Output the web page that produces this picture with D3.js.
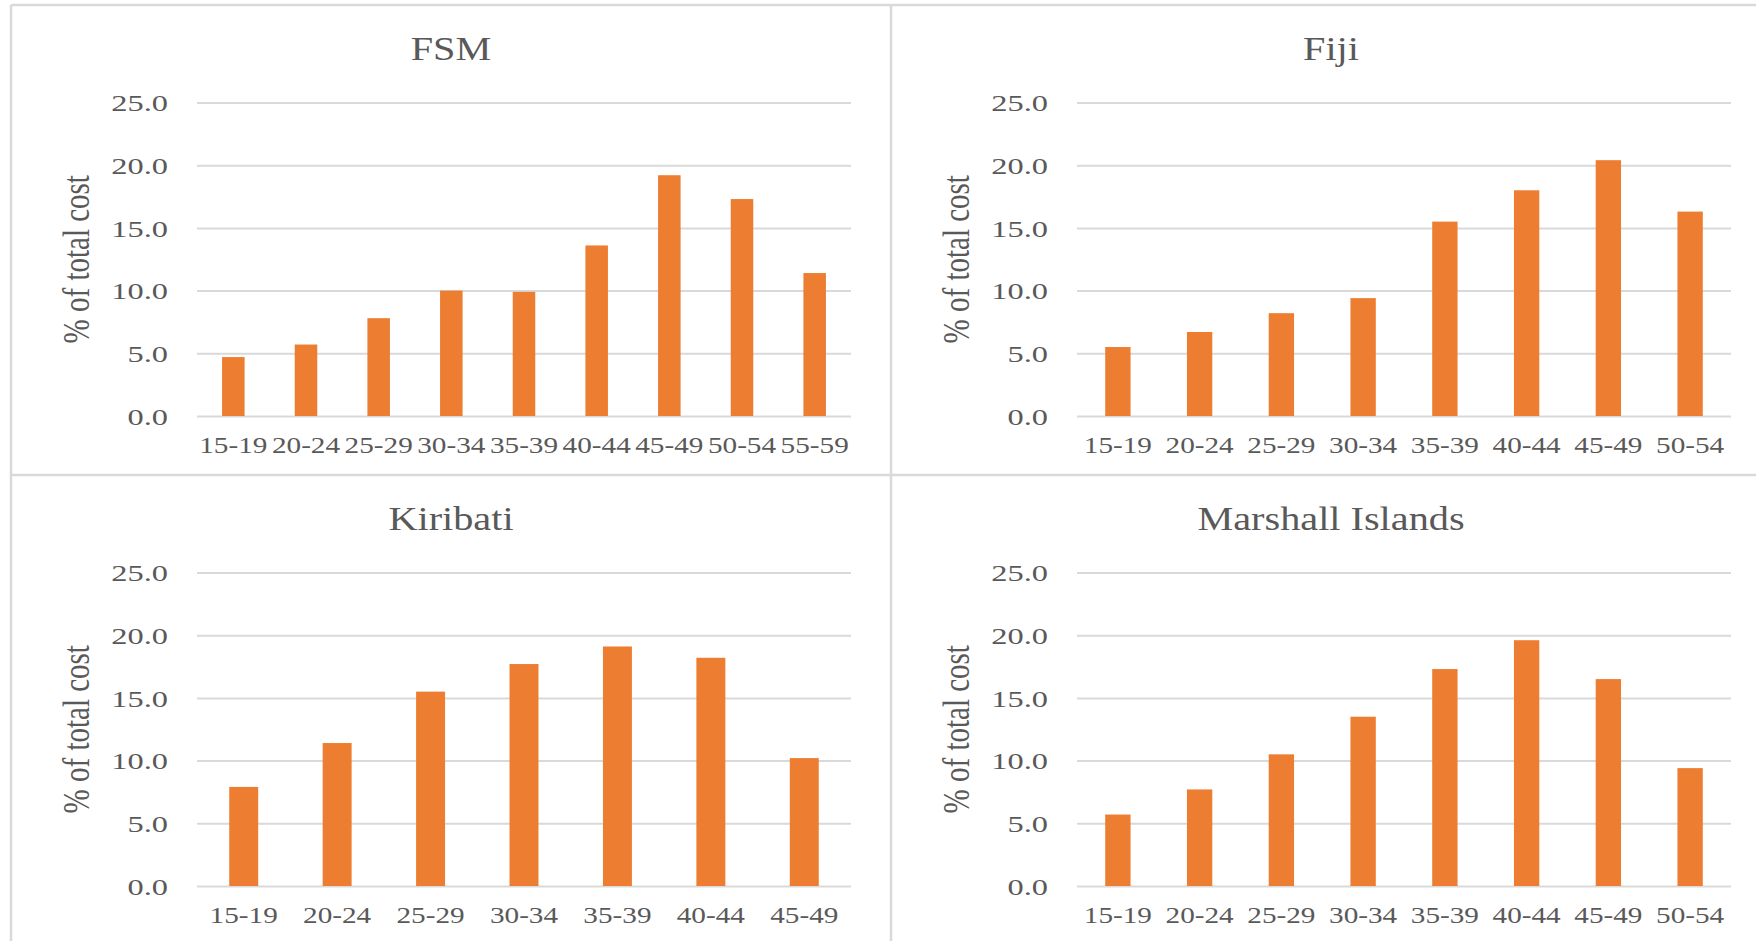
<!DOCTYPE html>
<html>
<head>
<meta charset="utf-8">
<script src="https://cdn.jsdelivr.net/npm/d3@7"></script>
<style>
  html, body { margin: 0; padding: 0; background: #ffffff; }
  svg { display: block; }
  text { font-family: "Liberation Serif", "Times New Roman", serif; fill: #595959; }
</style>
</head>
<body>
<svg id="chart" width="1756" height="941"></svg>
<script>
// ---- Data ----
const ageGroupsFSM = ["15-19","20-24","25-29","30-34","35-39","40-44","45-49","50-54","55-59"];
const ageGroupsFiji = ["15-19","20-24","25-29","30-34","35-39","40-44","45-49","50-54"];
const ageGroupsKiribati = ["15-19","20-24","25-29","30-34","35-39","40-44","45-49"];
const ageGroupsMarshall = ["15-19","20-24","25-29","30-34","35-39","40-44","45-49","50-54"];

const fsmValues = [4.7, 5.7, 7.8, 10.0, 9.9, 13.6, 19.2, 17.3, 11.4];
const fijiValues = [5.5, 6.7, 8.2, 9.4, 15.5, 18.0, 20.4, 16.3];
const kiribatiValues = [7.9, 11.4, 15.5, 17.7, 19.1, 18.2, 10.2];
const marshallValues = [5.7, 7.7, 10.5, 13.5, 17.3, 19.6, 16.5, 9.4];

const panelTitles = ["FSM", "Fiji", "Kiribati", "Marshall Islands"];
const yTicks = [0, 5, 10, 15, 20, 25];
const yAxisTitle = "% of total cost";

// ---- Layout ----
const svg = d3.select("#chart");
const W = 1756, H = 941;
const gridColor = "#D9D9D9";
const barColor = "#ED7D31";
const textColor = "#595959";

const panels = [
  { title: panelTitles[0], cats: ageGroupsFSM, vals: fsmValues, left: 11, top: 5 },
  { title: panelTitles[1], cats: ageGroupsFiji, vals: fijiValues, left: 891, top: 5 },
  { title: panelTitles[2], cats: ageGroupsKiribati, vals: kiribatiValues, left: 11, top: 475 },
  { title: panelTitles[3], cats: ageGroupsMarshall, vals: marshallValues, left: 891, top: 475 }
];

// panel borders
const borders = svg.append("g").attr("stroke", gridColor).attr("stroke-width", 2.5).attr("fill", "none");
borders.append("line").attr("x1", 11).attr("x2", W).attr("y1", 5).attr("y2", 5);
borders.append("line").attr("x1", 11).attr("x2", W).attr("y1", 475).attr("y2", 475);
borders.append("line").attr("x1", 11).attr("x2", 11).attr("y1", 5).attr("y2", H);
borders.append("line").attr("x1", 891).attr("x2", 891).attr("y1", 5).attr("y2", H);

const yTickSX = 1.35;   // horizontal stretch of y tick text
const xTickSX = 1.3;    // horizontal stretch of x tick text
const titleSX = 1.22;

panels.forEach(p => {
  const g = svg.append("g").attr("transform", `translate(${p.left},${p.top})`);
  const x0 = 186, x1 = 840;
  const yTop = 97.5, yBot = 411;

  const x = d3.scaleBand().domain(p.cats).range([x0, x1]).paddingInner(0.69).paddingOuter(0.345);
  const y = d3.scaleLinear().domain([0, 25]).range([yBot, yTop]);

  // gridlines + y tick labels
  const yAxis = d3.axisLeft(y).tickValues(yTicks).tickFormat(d3.format(".1f")).tickSize(-(x1 - x0)).tickPadding(0);
  const ya = g.append("g").attr("transform", `translate(${x0},0)`).call(yAxis);
  ya.select(".domain").remove();
  ya.selectAll(".tick line").attr("stroke", gridColor).attr("stroke-width", 2);
  ya.selectAll(".tick text")
    .attr("x", 0).attr("dy", "0.34em")
    .attr("transform", `translate(-29,0) scale(${yTickSX},1)`)
    .attr("font-family", "Liberation Serif")
    .attr("font-size", 24)
    .attr("fill", textColor);

  // bars
  g.append("g").selectAll("rect")
    .data(p.cats.map((c, i) => ({ c, v: p.vals[i] })))
    .join("rect")
    .attr("x", d => x(d.c))
    .attr("width", x.bandwidth())
    .attr("y", d => y(d.v))
    .attr("height", d => y(0) - y(d.v))
    .attr("fill", barColor);

  // x axis labels
  const xAxis = d3.axisBottom(x).tickSize(0).tickPadding(0);
  const xa = g.append("g").attr("transform", `translate(0,${yBot})`).call(xAxis);
  xa.select(".domain").remove();
  xa.selectAll(".tick text")
    .attr("y", 0).attr("dy", 0)
    .attr("transform", `translate(0,37) scale(${xTickSX},1)`)
    .attr("font-family", "Liberation Serif")
    .attr("font-size", 22.5)
    .attr("fill", textColor);

  // title
  g.append("text")
    .attr("transform", `translate(440,${yTop - 43}) scale(${titleSX},1)`)
    .attr("text-anchor", "middle")
    .attr("font-size", 33)
    .attr("fill", textColor)
    .text(p.title);

  // y axis title
  g.append("text")
    .attr("transform", `translate(78,${(yTop + yBot) / 2}) rotate(-90) scale(1,1.3)`)
    .attr("text-anchor", "middle")
    .attr("font-size", 29)
    .attr("fill", textColor)
    .text(yAxisTitle);
});
</script>
</body>
</html>
